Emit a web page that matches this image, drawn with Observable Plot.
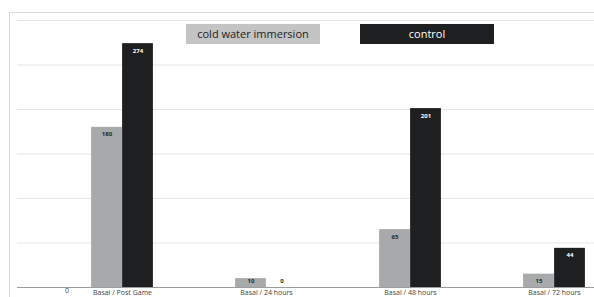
<!DOCTYPE html>
<html>
<head>
<meta charset="utf-8">
<script src="https://cdn.jsdelivr.net/npm/d3@7"></script>
<script src="https://cdn.jsdelivr.net/npm/@observablehq/plot@0.6"></script>
<style>
  html, body { margin: 0; padding: 0; background: #fff; }
  #wrap { position: relative; width: 594px; height: 297px; overflow: hidden; font-family: "Open Sans", sans-serif; }
  #wrap svg { position: absolute; left: 0; top: 0; }
  #frame { position: absolute; left: 9px; top: 12px; width: 600px; height: 300px; border-left: 1px solid #d9d9d9; border-top: 1px solid #d9d9d9; }
  .leg { position: absolute; top: 24px; height: 20px; width: 134px; display: flex; align-items: center; justify-content: center; font-size: 11px; line-height: 20px; }
  #zero { position: absolute; left: 65px; top: 286px; font-size: 7px; line-height: 9px; color: #444; font-family: "Open Sans", sans-serif; }
</style>
</head>
<body>
<div id="wrap">
  <div id="frame"></div>
</div>
<script>
const categories = ["Basal / Post Game", "Basal / 24 hours", "Basal / 48 hours", "Basal / 72 hours"];
const series = ["cold water immersion", "control"];
const cwiValues = [180, 10, 65, 15];
const controlValues = [274, 0, 201, 44];
const gridTicks = [50, 100, 150, 200, 250, 300];
const colors = ["#a7a9aa", "#1e1f21"];

const data = categories.flatMap((c, i) => [
  {cat: c, s: series[0], v: cwiValues[i]},
  {cat: c, s: series[1], v: controlValues[i]}
]);
const cwiData = data.filter(d => d.s === series[0]);
const ctlData = data.filter(d => d.s === series[1]);

const inset = 56.6;
const off = 15.5;

const chart = Plot.plot({
  width: 594,
  height: 297,
  marginLeft: 17,
  marginRight: 0,
  marginTop: 20,
  marginBottom: 10,
  style: {background: "transparent", fontFamily: "Open Sans, sans-serif"},
  x: {type: "band", domain: categories, range: [49, 626], padding: 0, axis: null},
  y: {domain: [0, 300], axis: null},
  color: {domain: series, range: colors},
  marks: [
    Plot.ruleY(gridTicks, {stroke: "#e6e6e6", strokeWidth: 1}),
    Plot.barY(cwiData, {x: "cat", y: "v", fill: "s", insetLeft: inset, insetRight: inset, dx: -off}),
    Plot.barY(ctlData, {x: "cat", y: "v", fill: "s", insetLeft: inset, insetRight: inset, dx: off}),
    Plot.ruleY([0], {stroke: "#9c9c9c", strokeWidth: 1}),
    Plot.text(cwiData, {x: "cat", y: d => Math.max(d.v, 15), dy: 7, dx: -off, text: d => String(d.v), fill: "#2a2a2a", fontSize: 6, fontWeight: "bold"}),
    Plot.text(ctlData, {x: "cat", y: d => Math.max(d.v, 15), dy: 7, dx: off, text: d => String(d.v), fill: d => d.v > 0 ? "#ffffff" : "#2a2a2a", fontSize: 6, fontWeight: "bold"}),
    Plot.text(categories, {x: d => d, frameAnchor: "bottom", dy: 7.5, text: d => d, fill: "#444", fontSize: 7, textAnchor: "middle", lineAnchor: "bottom"})
  ]
});

const wrap = document.getElementById("wrap");
wrap.appendChild(chart);

const leg1 = document.createElement("div");
leg1.className = "leg";
leg1.style.left = "186px";
leg1.style.background = "#c4c4c4";
leg1.style.color = "#222";
leg1.textContent = series[0];
wrap.appendChild(leg1);

const leg2 = document.createElement("div");
leg2.className = "leg";
leg2.style.left = "360px";
leg2.style.background = colors[1];
leg2.style.color = "#fff";
leg2.textContent = series[1];
wrap.appendChild(leg2);

const zero = document.createElement("div");
zero.id = "zero";
zero.textContent = "0";
wrap.appendChild(zero);
</script>
</body>
</html>
